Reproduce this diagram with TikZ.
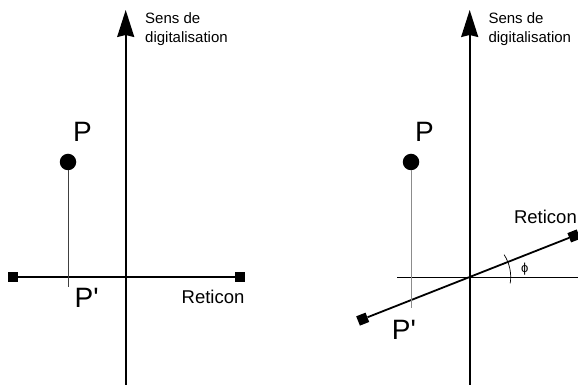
\documentclass[tikz,border=0pt]{standalone}
\usepackage{fontspec}
\setmainfont{Liberation Sans}
\usetikzlibrary{arrows.meta}
\colorlet{projg}{black!75}
\colorlet{projd}{black!45}
\newcommand{\angreticon}{21.5}

\begin{document}
\begin{tikzpicture}[x=1pt, y=1pt,
    axe/.style={line width=1.8pt, -{Stealth[length=27pt, width=17pt, inset=2pt]}},
    barre/.style={line width=1.8pt},
    fin/.style={fill=black, inner sep=0pt, minimum size=10pt},
    pt/.style={circle, fill=black, inner sep=0pt, minimum size=16.5pt},
    grand/.style={font=\fontsize{28}{28}\selectfont, inner sep=0pt},
    moyen/.style={font=\fontsize{18.5}{18.5}\selectfont, inner sep=0pt},
    petit/.style={font=\fontsize{15}{19.5}\selectfont, align=left, inner sep=0pt}]
  \path[use as bounding box, clip] (0,0) rectangle (578,385);
  % --- reticon perpendiculaire au sens de digitalisation
  \coordinate (O1) at (125.7,108);
  \coordinate (bas1) at (125.7,0);
  \coordinate (haut1) at (125.7,375);
  \draw[axe] (bas1) -- (haut1);
  \node[petit, anchor=north west] (sens1) at (145,373) {Sens de\\digitalisation};
  \node[fin] (g1) at (13,108) {};
  \node[fin] (d1) at (240,108) {};
  \draw[barre] (g1) -- (d1);
  \node[pt] (P1) at (68,223) {};
  \coordinate (Q1) at (68,98);
  \draw[projg, line width=0.8pt] (P1) -- (Q1);
  \node[grand, anchor=base west] (lP1) at (73,243) {P};
  \node[grand, anchor=base west] (lQ1) at (74.5,77) {P\textquotesingle};
  \node[moyen, anchor=base west] (ret1) at (181.5,81) {Reticon};
  % --- reticon tourne d'un angle phi
  \coordinate (O2) at (469.7,108);
  \coordinate (bas2) at (469.7,0);
  \coordinate (haut2) at (469.7,375);
  \coordinate (h2) at (397,108);
  \coordinate (hd2) at (578,108);
  \draw[line width=0.8pt] (h2) -- (hd2);
  \draw[axe] (bas2) -- (haut2);
  \node[petit, anchor=north west] (sens2) at (488.3,373) {Sens de\\digitalisation};
  \path (O2) ++(\angreticon+180:115) node[fin, rotate=\angreticon] (g2) {};
  \path (O2) ++(\angreticon:112) node[fin, rotate=\angreticon] (d2) {};
  \draw[barre] (g2) -- (d2);
  \draw[line width=0.7pt] (O2) ++(-9:41) arc[start angle=-9, end angle=33, radius=41];
  \node[font=\fontsize{13}{13}\selectfont, inner sep=0pt, anchor=base west] (phi) at (521,112.3) {ϕ};
  \node[pt] (P2) at (411,223) {};
  \coordinate (Q2) at (411,77);
  \draw[projd, line width=0.8pt] (P2) -- (Q2);
  \node[grand, anchor=base west] (lP2) at (415,243) {P};
  \node[grand, anchor=base west] (lQ2) at (391.7,45) {P\textquotesingle};
  \node[moyen, anchor=base east] (ret2) at (577,161.7) {Reticon};
\end{tikzpicture}
\end{document}
